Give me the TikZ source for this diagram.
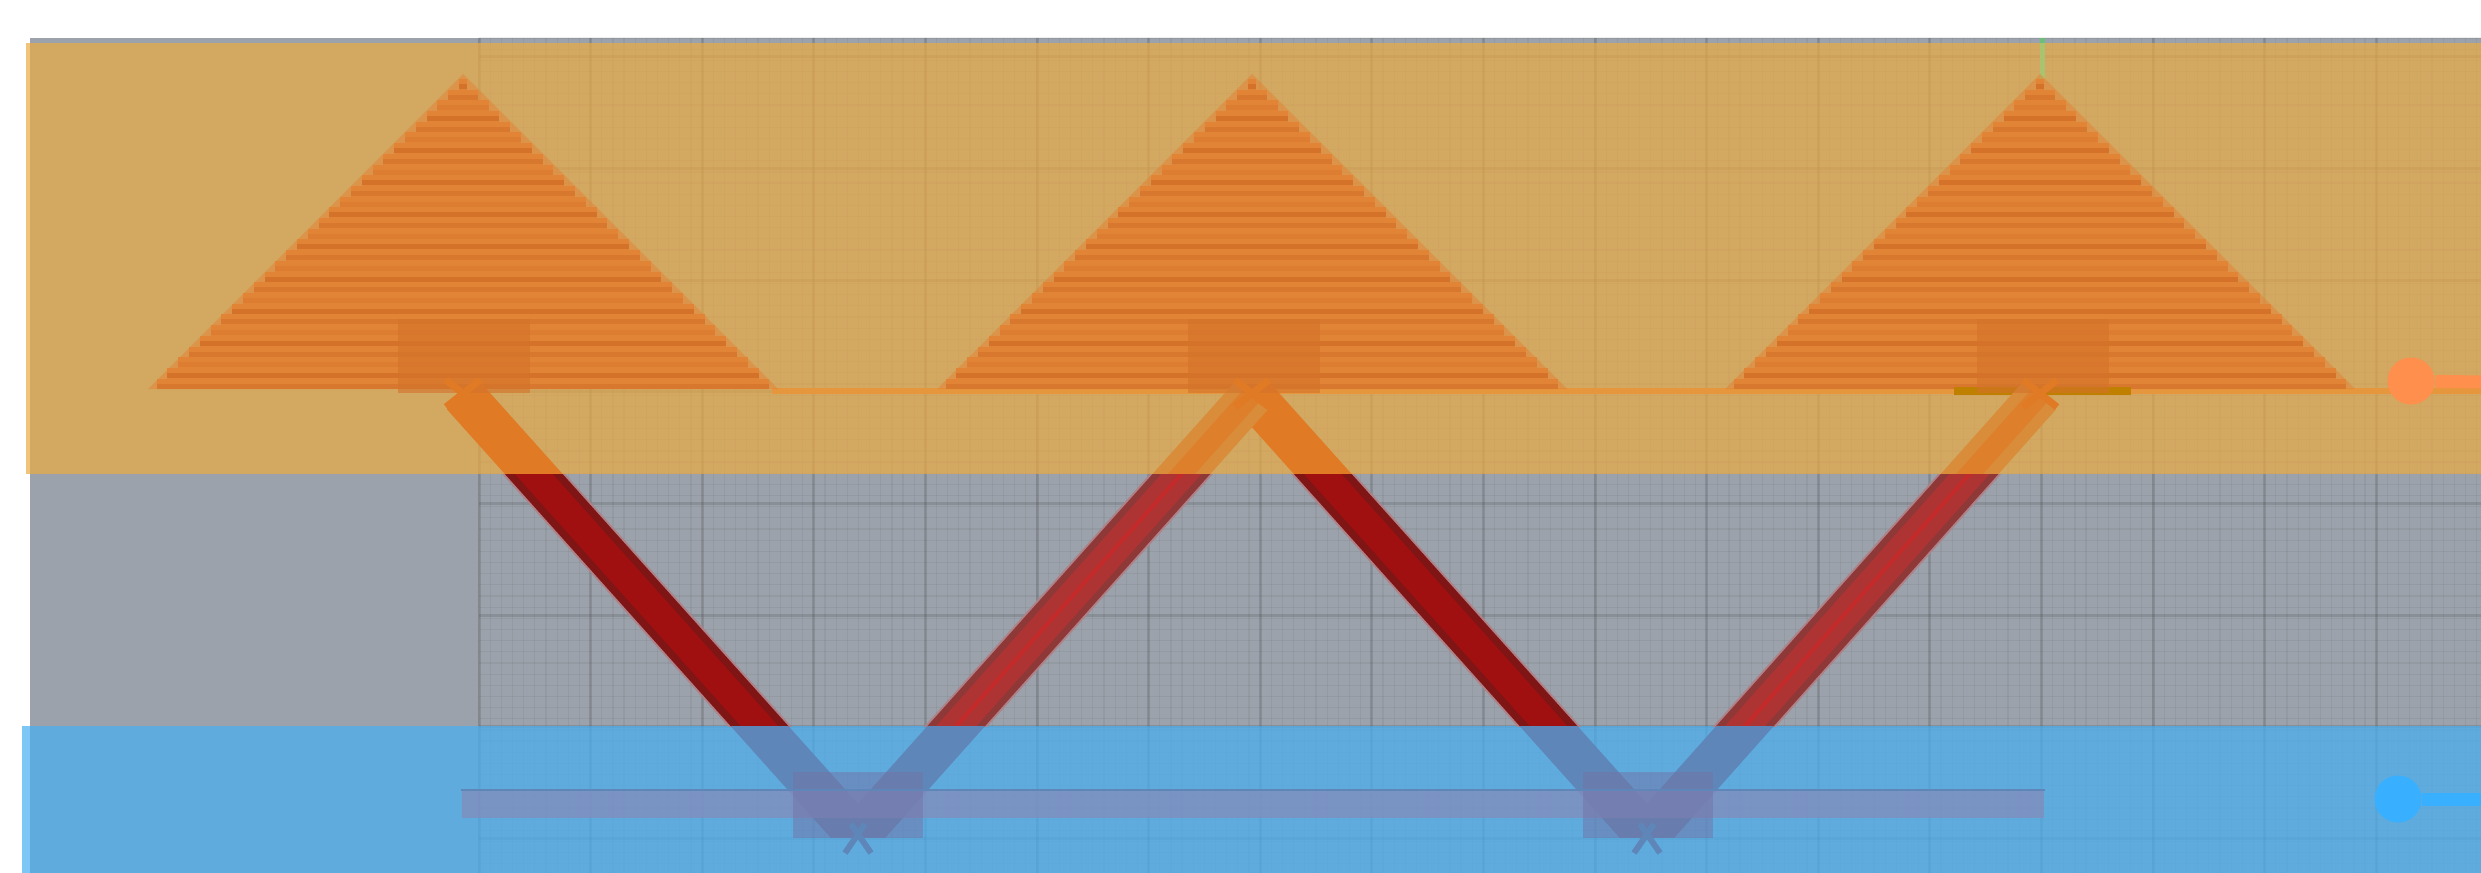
\documentclass[tikz,border=0pt]{standalone}
\usepackage{xcolor}
\usetikzlibrary{positioning, calc}

\definecolor{bggray}{HTML}{9BA2AB}
\definecolor{zoneorange}{HTML}{ECAB43}
\definecolor{zoneblue}{HTML}{47B0F5}
\definecolor{rowlight}{HTML}{E28436}
\definecolor{rowdark}{HTML}{D4722A}
\definecolor{ballorange}{HTML}{FF8F4D}
\definecolor{ballblue}{HTML}{38B0FF}
\definecolor{strutorange}{HTML}{E07A25}
\definecolor{strutamber}{HTML}{D98C3A}
\definecolor{strutblue}{HTML}{5F86B8}
\definecolor{strutdark}{HTML}{801515}
\definecolor{strutred}{HTML}{A01010}
\definecolor{strutwine}{HTML}{8E3838}
\definecolor{strutrose}{HTML}{AE3434}
\definecolor{strutline}{HTML}{C42A2A}
\definecolor{supportblue}{HTML}{7273A5}
\definecolor{chordblue}{HTML}{808DBD}

\begin{document}
\begin{tikzpicture}[
    x=0.01cm, y=-0.01cm,
    zone/.style={opacity=0.7},
    majorgrid/.style={draw=black!70, line width=0.03cm, opacity=0.22},
    minorgrid/.style={draw=black!70, line width=0.012cm, opacity=0.09},
    topsupport/.style={rectangle, draw=none, fill=rowdark, fill opacity=0.6, minimum width=1.32cm, minimum height=0.73cm, inner sep=0pt},
    botsupport/.style={rectangle, draw=none, fill=supportblue, fill opacity=0.5, minimum width=1.3cm, minimum height=0.65cm, inner sep=0pt},
    chord/.style={rectangle, draw=none, fill=chordblue, fill opacity=0.8, minimum width=15.82cm, minimum height=0.27cm, inner sep=0pt},
    ball/.style={circle, draw=none, minimum size=0.47cm, inner sep=0pt},
    stick/.style={line width=0.13cm},
    strut/.style={line width=0.43cm},
    jointmark/.style={line width=0.07cm, draw=#1}
]
\useasboundingbox (0,0) rectangle (2481,873);

% Zones and grid
\fill[white] (0,0) rectangle (2481,873);
\begin{scope}
\clip (0,0) rectangle (2481,873);
\fill[bggray] (30,38) rectangle (2481,873);
\foreach \i in {0,...,179} {
    \draw[minorgrid] (479+\i*11.16,38) -- (479+\i*11.16,873);
}
\foreach \i in {0,...,74} {
    \draw[minorgrid] (479,38+\i*11.16) -- (2481,38+\i*11.16);
}
\foreach \i in {0,...,17} {
    \draw[majorgrid] (479+\i*111.6,38) -- (479+\i*111.6,873);
}
\foreach \i in {0,...,7} {
    \draw[majorgrid] (479,57+\i*111.6) -- (2481,57+\i*111.6);
}
\fill[zoneorange, zone] (26,43) rectangle (2481,474);
\fill[zoneblue, zone] (22,726) rectangle (2481,873);
\end{scope}

% Joints of the truss
\coordinate (top1) at (463,395);
\coordinate (top2) at (1252,395);
\coordinate (top3) at (2040,395);
\coordinate (bot1) at (858,836);
\coordinate (bot2) at (1647,836);
\coordinate (baseleft) at (772,391);
\coordinate (baseright) at (2481,391);
\coordinate (orangeend) at (2481,382);
\coordinate (blueend) at (2481,799);

% Line along the top and the mast
\draw[draw=rowlight!55!zoneorange, line width=0.05cm] (baseleft) -- (baseright);
\draw[draw=yellow!40!bggray!80!green, line width=0.05cm] (2042,43) -- (2042,79);
\draw[draw=green!30!bggray, line width=0.05cm] (2042,38) -- (2042,43);

% Stepped triangles
\foreach \cx in {463,1252,2040} {
    \fill[rowlight, opacity=0.55] (\cx,74) -- (\cx+315,389) -- (\cx-315,389) -- cycle;
    \foreach \i in {0,...,28} {
        \pgfmathsetmacro{\hw}{4+\i*10.8}
        \pgfmathsetmacro{\ytop}{79+\i*10.7}
        \pgfmathsetmacro{\shade}{100-30*mod(\i,3)}
        \fill[rowlight] (\cx-\hw,\ytop) rectangle (\cx+\hw,\ytop+10.7);
        \fill[rowdark!\shade!rowlight] (\cx-\hw,\ytop+5) rectangle (\cx+\hw,\ytop+10);
    }
}
\draw[draw=orange!50!olive, line width=0.07cm] (1954,391) -- (2131,391);

% Struts, one scope for each zone
\begin{scope}
\clip (0,43) rectangle (2481,474);
\foreach \a/\b in {top1/bot1,top2/bot2} {
    \draw[strut, draw=strutorange] (\a) -- (\b);
}
\foreach \a/\b in {top2/bot1,top3/bot2} {
    \draw[strut, draw=strutamber] (\a) -- (\b);
    \draw[strut, line width=0.2cm, draw=strutorange!70!strutamber] (\a) -- (\b);
}
\end{scope}
\begin{scope}
\clip (0,474) rectangle (2481,726);
\foreach \a/\b in {top1/bot1,top2/bot2} {
    \draw[strut, line width=0.47cm, draw=red!20!bggray] (\a) -- (\b);
    \draw[strut, draw=strutdark] (\a) -- (\b);
    \draw[strut, line width=0.28cm, draw=strutred] (\a) -- (\b);
}
\foreach \a/\b in {top2/bot1,top3/bot2} {
    \draw[strut, line width=0.47cm, draw=red!20!bggray] (\a) -- (\b);
    \draw[strut, draw=strutwine] (\a) -- (\b);
    \draw[strut, line width=0.3cm, draw=strutrose] (\a) -- (\b);
    \draw[strut, line width=0.04cm, draw=strutline] (\a) -- (\b);
}
\end{scope}
\begin{scope}
\clip (0,726) rectangle (2481,837);
\foreach \a/\b in {top1/bot1,top2/bot1,top2/bot2,top3/bot2} {
    \draw[strut, draw=strutblue] (\a) -- (\b);
}
\end{scope}

% Supports
\node[topsupport] (sup1) at (464,356) {};
\node[topsupport] (sup2) at (1254,356) {};
\node[topsupport] (sup3) at (2043,356) {};
\node[chord] (chordbar) at (1253,804) {};
\node[botsupport] (base1) at (858,805) {};
\node[botsupport] (base2) at (1648,805) {};
\draw[draw=strutblue, line width=0.025cm] (chordbar.north west) -- (chordbar.north east);

% Marks at the joints
\foreach \j in {top1,top2,top3} {
    \draw[jointmark=strutorange] ($(\j)+(-17,-15)$) -- ($(\j)+(17,12)$);
    \draw[jointmark=strutorange] ($(\j)+(-17,12)$) -- ($(\j)+(17,-15)$);
}
\foreach \j in {bot1,bot2} {
    \draw[jointmark=strutblue, line width=0.06cm] ($(\j)+(-13,17)$) -- ($(\j)+(7,-12)$);
    \draw[jointmark=strutblue, line width=0.06cm] ($(\j)+(13,17)$) -- ($(\j)+(-7,-12)$);
}

% Balls on the right edge
\node[ball, fill=ballorange] (orangeball) at (2411,381) {};
\node[ball, fill=ballblue] (blueball) at (2398,799) {};
\draw[stick, draw=ballorange] (orangeball) -- (orangeend);
\draw[stick, draw=ballblue] (blueball) -- (blueend);

\end{tikzpicture}
\end{document}
